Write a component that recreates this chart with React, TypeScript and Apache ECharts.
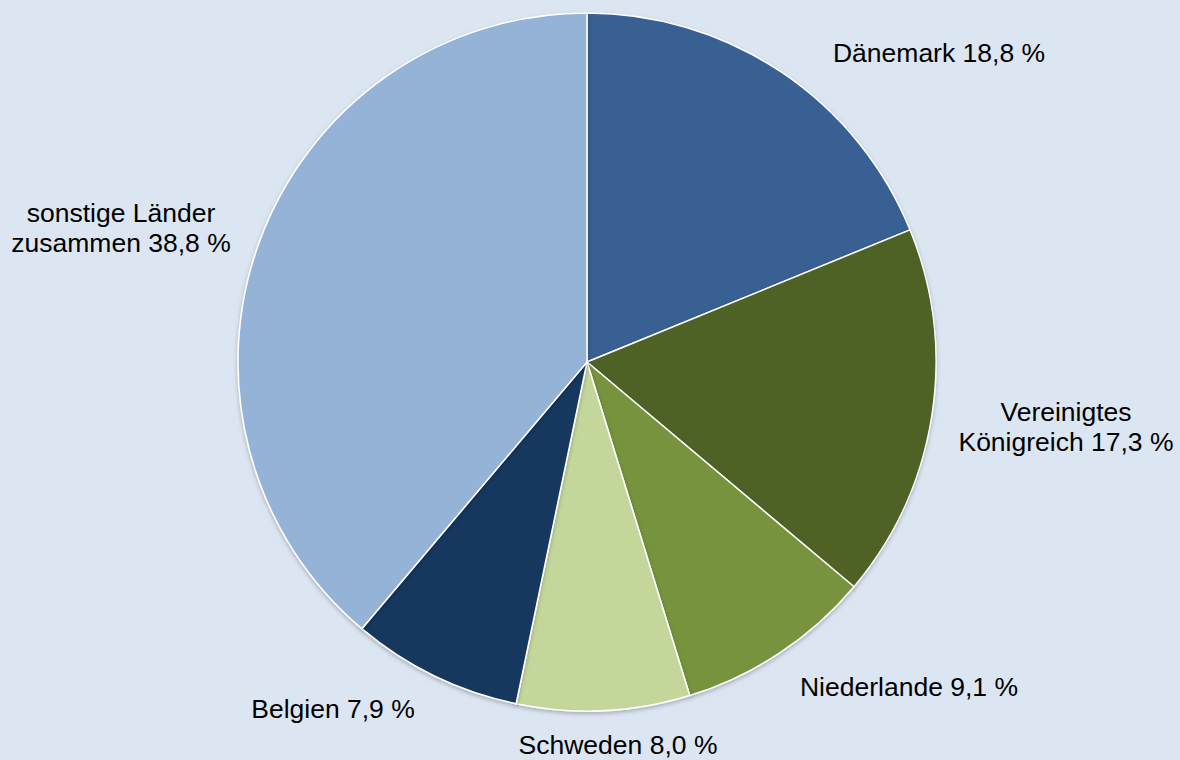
import React, { useEffect, useRef } from "react";
import * as echarts from "echarts";

const categories = [
  "Dänemark",
  "Vereinigtes\nKönigreich",
  "Niederlande",
  "Schweden",
  "Belgien",
  "sonstige Länder\nzusammen",
];
const shares = [18.8, 17.3, 9.1, 8.0, 7.9, 38.8];
const colors = ["#376092", "#4f6228", "#77933c", "#c4d79b", "#17375e", "#95b3d7"];
// label centre positions (annotation layout)
const labelX = [939, 1066, 909, 618, 333, 121];
const labelY = [53, 427, 687, 745, 709, 228];

export default function App() {
  const ref = useRef<HTMLDivElement>(null);
  useEffect(() => {
    if (!ref.current) return;
    const chart = echarts.init(ref.current, undefined, { renderer: "svg" });
    chart.setOption({
      animation: false,
      backgroundColor: "#dce6f2",
      series: [
        {
          type: "pie",
          center: [587, 362],
          radius: 349,
          startAngle: 90,
          clockwise: true,
          avoidLabelOverlap: false,
          data: categories.map((c, i) => ({
            name: c,
            value: shares[i],
            itemStyle: { color: colors[i] },
          })),
          itemStyle: {
            borderColor: "#ffffff",
            borderWidth: 1.5,
            shadowColor: "rgba(0,0,0,0.25)",
            shadowBlur: 4,
            shadowOffsetY: 2,
          },
          label: {
            show: true,
            position: "outside",
            color: "#000000",
            fontFamily: "Liberation Sans, Arial, sans-serif",
            fontSize: 26.5,
            lineHeight: 30,
            align: "center",
            formatter: (p: any) =>
              `${p.name} ${shares[p.dataIndex].toFixed(1).replace(".", ",")} %`,
          },
          labelLine: { show: false },
          labelLayout: (p: any) => ({
            x: labelX[p.dataIndex],
            y: labelY[p.dataIndex],
            align: "center",
            verticalAlign: "middle",
          }),
          emphasis: { disabled: true },
        },
      ],
    });
    return () => chart.dispose();
  }, []);
  return (
    <div
      ref={ref}
      style={{ position: "absolute", left: 0, top: 0, width: 1180, height: 760 }}
    />
  );
}
